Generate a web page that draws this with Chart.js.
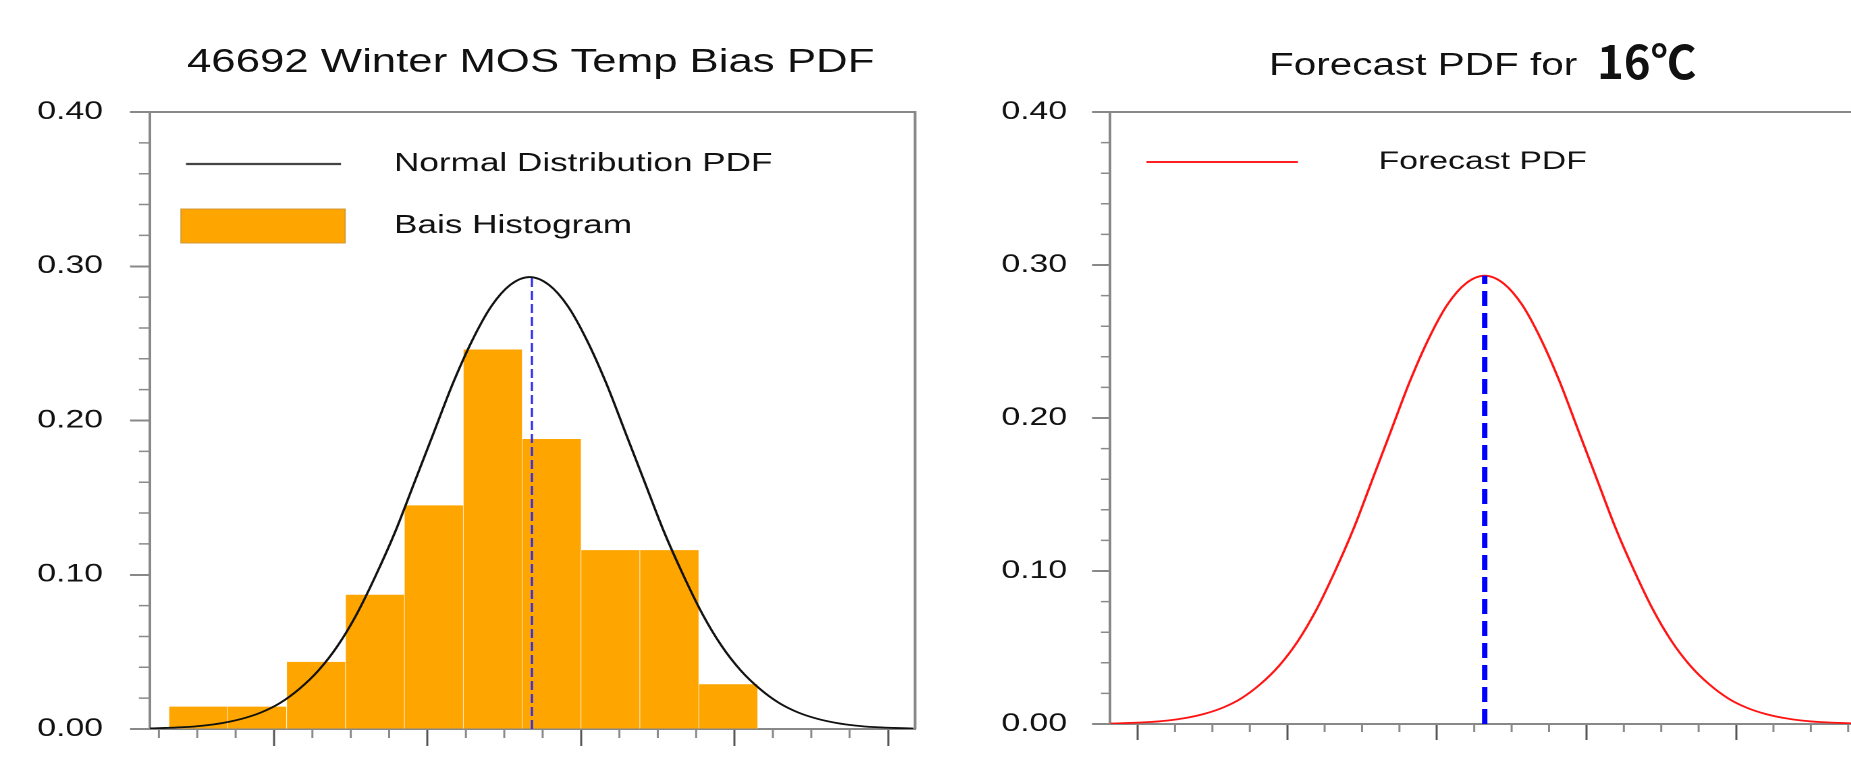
<!DOCTYPE html>
<html>
<head>
<meta charset="utf-8">
<title>46692 Winter MOS Temp Bias PDF</title>
<script src="https://cdn.jsdelivr.net/npm/chart.js@4.4.1/dist/chart.umd.min.js"></script>
<style>
  html, body { margin: 0; padding: 0; background: #fff; }
  body { width: 1851px; height: 764px; overflow: hidden; position: relative; font-family: "Liberation Sans", Arial, sans-serif; }
  /* the original picture is stretched sideways, so the charts are too */
  .wrap { position: absolute; top: 0; transform-origin: 0 0; transform: scaleX(1.35); }
  #leftWrap { left: 0; }
  #rightWrap { left: 925px; }
  .title { position: absolute; white-space: nowrap; transform-origin: 0 0; color: #111; }
  #leftTitle { left: 187px; top: 44px; font-size: 33px; line-height: 33px; transform: scaleX(1.326); }
  #rightTitle { left: 1269px; top: 49px; font-size: 31px; line-height: 31px; transform: scaleX(1.306); }
  #rightTemp { left: 1597px; top: 36px; font: bold 46px/46px "Noto Sans CJK SC", sans-serif; transform: scaleX(0.99); }
</style>
</head>
<body>
<div class="wrap" id="leftWrap"><canvas id="biasChart" width="685" height="764"></canvas></div>
<div class="wrap" id="rightWrap"><canvas id="forecastChart" width="711" height="764"></canvas></div>
<div class="title" id="leftTitle">46692 Winter MOS Temp Bias PDF</div>
<div class="title" id="rightTitle">Forecast PDF for</div>
<div class="title" id="rightTemp">16℃</div>
<script>
const FONT = '"Liberation Sans", Arial, sans-serif';

// histogram: bin centres (bias, degC) and relative frequency
const binCenters = [-4.985, -4.218, -3.451, -2.684, -1.917, -1.150, -0.383, 0.384, 1.151, 1.918];
const binFreq = [0.0145, 0.0145, 0.0435, 0.087, 0.145, 0.246, 0.188, 0.116, 0.116, 0.029];

// pdf curve, points 0.25 degC apart
const pdfValues = [0.0003, 0.0007, 0.0012, 0.0022, 0.0039, 0.0066, 0.0107, 0.0169, 0.026, 0.038,
                   0.054, 0.0747, 0.100, 0.128, 0.160, 0.192, 0.224, 0.2517, 0.274, 0.288, 0.293,
                   0.288, 0.274, 0.2517, 0.224, 0.192, 0.160, 0.128, 0.100, 0.0747, 0.054,
                   0.038, 0.026, 0.0169, 0.0107, 0.0066, 0.0039, 0.0022, 0.0012, 0.0007, 0.0003];
const biasPdfX = [-5.67, -5.42, -5.17, -4.92, -4.67, -4.42, -4.17, -3.92, -3.67, -3.42,
                  -3.17, -2.92, -2.67, -2.42, -2.17, -1.92, -1.67, -1.42, -1.17, -0.92, -0.67,
                  -0.42, -0.17, 0.08, 0.33, 0.58, 0.83, 1.08, 1.33, 1.58, 1.83,
                  2.08, 2.33, 2.58, 2.83, 3.08, 3.33, 3.58, 3.83, 4.08, 4.33];
const forecastPdfX = [11.64, 11.89, 12.14, 12.39, 12.64, 12.89, 13.14, 13.39, 13.64, 13.89,
                      14.14, 14.39, 14.64, 14.89, 15.14, 15.39, 15.64, 15.89, 16.14, 16.39, 16.64,
                      16.89, 17.14, 17.39, 17.64, 17.89, 18.14, 18.39, 18.64, 18.89, 19.14,
                      19.39, 19.64, 19.89, 20.14, 20.39, 20.64, 20.89, 21.14, 21.39, 21.64];

const biasMean = -0.64;
const forecastMean = 16.64;
const pdfPeak = 0.293;

// axis ticks (no x labels in the original)
const yTicks = [0, 0.1, 0.2, 0.3, 0.4];
const biasXTicks = [-4, -2, 0, 2, 4];
const forecastXTicks = [12, 14, 16, 18, 20];

function minorTicks(from, to, step, every) {
    const out = [];
    for (let i = 0; from + i * step <= to + 1e-9; i++) {
        if (i % every !== 0) out.push(+(from + i * step).toFixed(4));
    }
    return out;
}

// minor ticks, box frame and legend (drawn on the library's scales)
const axisDecor = {
    id: 'axisDecor',
    afterDraw(chart, args, opts) {
        const ctx = chart.ctx;
        const area = chart.chartArea;
        const xs = chart.scales.x, ys = chart.scales.y;
        ctx.save();

        ctx.strokeStyle = '#8a8a8a';
        ctx.lineWidth = 1.5;
        ctx.beginPath();
        opts.yMinor.forEach(v => {
            const py = ys.getPixelForValue(v);
            ctx.moveTo(area.left - opts.yMinorLen, py);
            ctx.lineTo(area.left, py);
        });
        opts.xMinor.forEach(v => {
            const px = xs.getPixelForValue(v);
            if (px < area.left || px > area.right) return;
            ctx.moveTo(px, area.bottom);
            ctx.lineTo(px, area.bottom + opts.xMinorLen);
        });
        ctx.stroke();

        // top and right side of the box
        ctx.strokeStyle = '#888';
        ctx.lineWidth = 2;
        ctx.beginPath();
        ctx.moveTo(area.left, area.top);
        ctx.lineTo(area.right, area.top);
        ctx.lineTo(area.right, area.bottom);
        ctx.stroke();

        // legend
        ctx.font = opts.legendFont + 'px ' + FONT;
        ctx.textBaseline = 'middle';
        opts.legend.forEach(item => {
            const x0 = area.left + item.x0, x1 = area.left + item.x1;
            if (item.box) {
                ctx.fillStyle = item.color;
                ctx.fillRect(x0, item.y - item.h / 2, x1 - x0, item.h);
                ctx.strokeStyle = '#d49a3a';
                ctx.lineWidth = 1;
                ctx.strokeRect(x0, item.y - item.h / 2, x1 - x0, item.h);
            } else {
                ctx.strokeStyle = item.color;
                ctx.lineWidth = item.width;
                ctx.beginPath();
                ctx.moveTo(x0, item.y);
                ctx.lineTo(x1, item.y);
                ctx.stroke();
            }
            ctx.fillStyle = '#111';
            ctx.fillText(item.text, area.left + item.tx, item.y);
        });
        ctx.restore();
    }
};

function yAxis(width, tickLen, pad) {
    return {
        min: 0,
        max: 0.4,
        afterFit: s => { s.width = width; },
        afterBuildTicks: s => { s.ticks = yTicks.map(v => ({ value: v })); },
        grid: { drawOnChartArea: false, tickLength: tickLen, tickColor: '#888', tickWidth: 2 },
        border: { color: '#888', width: 2 },
        ticks: { padding: pad, color: '#111', font: { family: FONT, size: 25 }, callback: v => v.toFixed(2) }
    };
}

function xAxis(min, max, majors, tickLen) {
    return {
        type: 'linear',
        min: min,
        max: max,
        offset: false,
        afterFit: s => { s.height = 20; },
        afterBuildTicks: s => { s.ticks = majors.map(v => ({ value: v })); },
        grid: { drawOnChartArea: false, offset: false, tickLength: tickLen, tickColor: '#555', tickWidth: 1.5 },
        border: { color: '#888', width: 2 },
        ticks: { display: false }
    };
}

const yMinor = minorTicks(0, 0.4, 0.02, 5);

new Chart(document.getElementById('biasChart'), {
    type: 'bar',
    data: {
        datasets: [{
            type: 'line',
            label: 'Mean bias',
            data: [{ x: biasMean, y: 0 }, { x: biasMean, y: pdfPeak }],
            borderColor: '#2b2bef',
            borderWidth: 1.6,
            borderDash: [9, 4],
            pointRadius: 0,
            order: 1
        }, {
            type: 'line',
            label: 'Normal Distribution PDF',
            data: biasPdfX.map((x, i) => ({ x: x, y: pdfValues[i] })),
            borderColor: '#111',
            borderWidth: 1.8,
            pointRadius: 0,
            cubicInterpolationMode: 'monotone',
            order: 2
        }, {
            type: 'bar',
            label: 'Bais Histogram',
            data: binCenters.map((x, i) => ({ x: x, y: binFreq[i] })),
            backgroundColor: '#ffa500',
            borderColor: 'rgba(255,255,255,0.85)',
            borderWidth: { left: 0.5, right: 0.5, top: 0, bottom: 0 },
            barPercentage: 1,
            categoryPercentage: 1,
            order: 3
        }]
    },
    options: {
        responsive: false,
        animation: false,
        devicePixelRatio: 2,
        layout: { padding: { left: 0, top: 112, right: 7.2, bottom: 11 } },
        plugins: {
            legend: { display: false },
            tooltip: { enabled: false },
            axisDecor: {
                yMinor: yMinor,
                yMinorLen: 8.2,
                xMinor: minorTicks(-6, 6, 0.5, 4),
                xMinorLen: 9,
                legendFont: 26,
                legend: [
                    { x0: 26.7, x1: 141.5, y: 164, color: '#444', width: 2.2, tx: 180.8, text: 'Normal Distribution PDF' },
                    { box: true, x0: 23, x1: 144.5, y: 226, h: 34, color: '#ffa500', tx: 180.8, text: 'Bais Histogram' }
                ]
            }
        },
        scales: {
            x: xAxis(-5.616, 4.352, biasXTicks, 17),
            y: yAxis(111.1, 14.8, 20)
        }
    },
    plugins: [axisDecor]
});

new Chart(document.getElementById('forecastChart'), {
    type: 'line',
    data: {
        datasets: [{
            label: 'Forecast mean',
            data: [{ x: forecastMean, y: 0 }, { x: forecastMean, y: pdfPeak }],
            borderColor: '#0000ff',
            borderWidth: 4,
            borderDash: [15, 7],
            pointRadius: 0,
            order: 1
        }, {
            label: 'Forecast PDF',
            data: forecastPdfX.map((x, i) => ({ x: x, y: pdfValues[i] })),
            borderColor: '#ff1414',
            borderWidth: 1.8,
            pointRadius: 0,
            cubicInterpolationMode: 'monotone',
            order: 2
        }]
    },
    options: {
        responsive: false,
        animation: false,
        devicePixelRatio: 2,
        layout: { padding: { left: 0, top: 112, right: 17.7, bottom: 20 } },
        plugins: {
            legend: { display: false },
            tooltip: { enabled: false },
            axisDecor: {
                yMinor: yMinor,
                yMinorLen: 6.7,
                xMinor: minorTicks(10, 22, 0.5, 4),
                xMinorLen: 8,
                legendFont: 25,
                legend: [
                    { x0: 27, x1: 139.2, y: 162, color: '#ff2020', width: 2, tx: 199, text: 'Forecast PDF' }
                ]
            }
        },
        scales: {
            x: xAxis(11.631, 21.67, forecastXTicks, 16),
            y: yAxis(137.04, 13.3, 18.5)
        }
    },
    plugins: [axisDecor]
});
</script>
</body>
</html>
